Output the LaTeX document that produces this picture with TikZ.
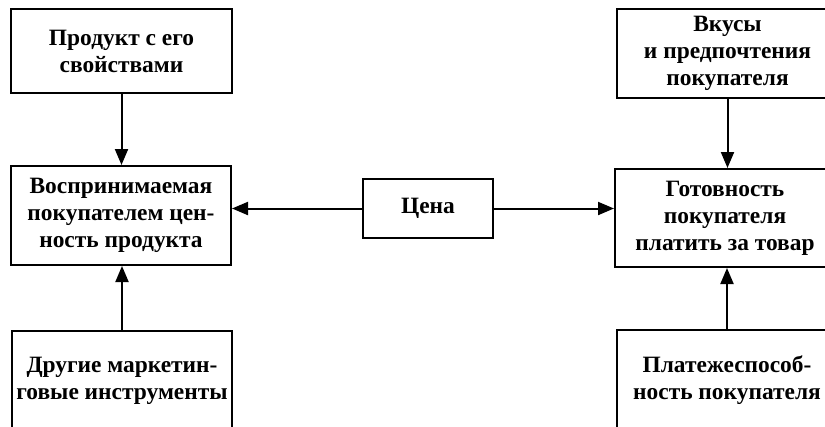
\documentclass[tikz,border=0pt]{standalone}
\usepackage{fontspec}
\setmainfont{Liberation Serif}
\usetikzlibrary{positioning, arrows.meta}
\tikzstyle{box} = [rectangle, draw=black, line width=2bp, minimum width=220bp,
inner sep=0pt, align=center, font=\bfseries\fontsize{23.5}{27}\selectfont]
\tikzstyle{arrow} = [line width=2bp, -{Triangle[length=16bp,width=13bp]}]

\begin{document}
\begin{tikzpicture}[x=1bp, y=-1bp]
\clip (0,0) rectangle (825,426);
% left column
\node[box, minimum height=84bp] (product) at (121.5,51) {Продукт с его\\свойствами};
\node[box, minimum height=99bp] (value) at (121,215.5) {Воспринимаемая\\покупателем цен-\\ность продукта};
\node[box, minimum height=100bp] (tools) at (122,381) {Другие маркетин-\\говые инструменты};
% centre
\node[box, minimum width=130bp, minimum height=59bp] (price) at (428,208.5) {Цена};
% right column (cut at the edge)
\node[box, minimum width=221bp, minimum height=89bp] (taste) at (727.5,53.5) {Вкусы\\и предпочтения\\покупателя};
\node[box, minimum height=98bp] (ready) at (725,218) {Готовность\\покупателя\\платить за товар};
\node[box, minimum height=100bp] (solvency) at (727,380) {Платежеспособ-\\ность покупателя};

\draw[arrow] (product.south) -- (product.south |- value.north);
\draw[arrow] (tools.north) -- (tools.north |- value.south);
\draw[arrow] (price.west) -- (price.west -| value.east);
\draw[arrow] (price.east) -- (price.east -| ready.west);
\draw[arrow] (taste.south) -- (taste.south |- ready.north);
\draw[arrow] (solvency.north) -- (solvency.north |- ready.south);
\end{tikzpicture}
\end{document}
